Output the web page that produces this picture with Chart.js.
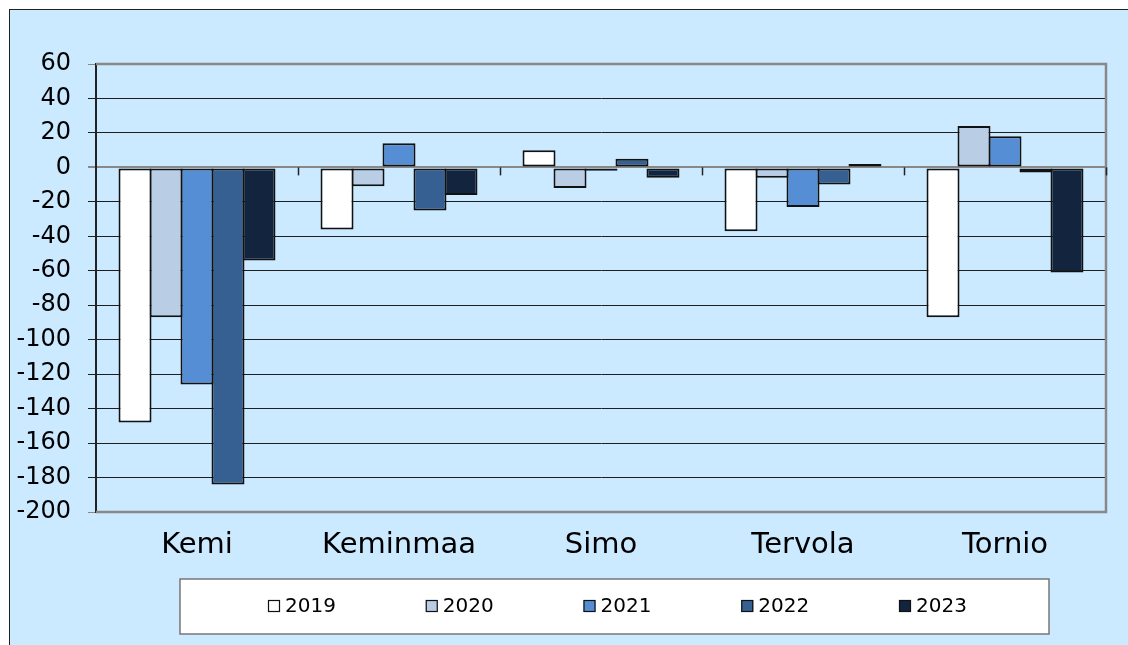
<!DOCTYPE html>
<html>
<head>
<meta charset="utf-8">
<script src="https://cdn.jsdelivr.net/npm/chart.js@4"></script>
<style>
  html, body { margin: 0; padding: 0; background: #fff; }
  #frame {
    position: absolute; left: 9px; top: 9px; right: 0; bottom: 0;
    background: #cceaff; border-left: 1.5px solid #222; border-top: 1.5px solid #222;
  }
  #wrap { position: absolute; left: 0; top: 0; width: 1128px; height: 645px; }
</style>
</head>
<body>
<div id="frame"></div>
<div id="wrap"><canvas id="chart"></canvas></div>
<script>
// Categories and series
const municipalities = ['Kemi', 'Keminmaa', 'Simo', 'Tervola', 'Tornio'];
const years = ['2019', '2020', '2021', '2022', '2023'];
const values2019 = [-148, -36, 10, -37, -87];
const values2020 = [-87, -11, -12, -6, 24];
const values2021 = [-126, 14, -2, -23, 18];
const values2022 = [-184, -25, 5, -10, -3];
const values2023 = [-54, -16, -6, 2, -61];
const seriesColors = ['#ffffff', '#b9cde5', '#558ed5', '#376092', '#12243e'];

const yMin = -200, yMax = 60, yStep = 20;
const fontFamily = '"DejaVu Sans", "Liberation Sans", Arial, sans-serif';

const allValues = [values2019, values2020, values2021, values2022, values2023];

// Gray frame round the plot area (top, right, bottom)
const plotFrame = {
  id: 'plotFrame',
  beforeDatasetsDraw(chart) {
    const {ctx, chartArea: a} = chart;
    ctx.save();
    ctx.strokeStyle = '#888';
    ctx.lineWidth = 2.5;
    ctx.beginPath();
    ctx.moveTo(a.left, a.top);
    ctx.lineTo(a.right, a.top);
    ctx.lineTo(a.right, a.bottom);
    ctx.lineTo(a.left, a.bottom);
    ctx.stroke();
    ctx.restore();
  },
  // small category tick marks hanging under the zero line
  afterDatasetsDraw(chart) {
    const {ctx} = chart;
    const x = chart.scales.x, y = chart.scales.y;
    const y0 = y.getPixelForValue(0);
    ctx.save();
    ctx.strokeStyle = '#222';
    ctx.lineWidth = 1.5;
    for (let i = 1; i <= municipalities.length; i++) {
      const px = Math.round(x.getPixelForValue(i - 0.5)) + 0.5;
      ctx.beginPath();
      ctx.moveTo(px, y0);
      ctx.lineTo(px, y0 + 8);
      ctx.stroke();
    }
    ctx.restore();
  }
};

// Boxed legend under the axis labels
const boxLegend = {
  id: 'boxLegend',
  afterDraw(chart) {
    const {ctx} = chart;
    const box = {left: 180, top: 579, right: 1049, bottom: 634};
    ctx.save();
    ctx.fillStyle = '#fff';
    ctx.fillRect(box.left, box.top, box.right - box.left, box.bottom - box.top);
    ctx.strokeStyle = '#777';
    ctx.lineWidth = 1.5;
    ctx.strokeRect(box.left, box.top, box.right - box.left, box.bottom - box.top);
    const step = 157.75;
    const cy = (box.top + box.bottom) / 2 - 0.5;
    ctx.font = '20px ' + fontFamily;
    ctx.textBaseline = 'middle';
    ctx.textAlign = 'left';
    chart.data.datasets.forEach((ds, i) => {
      const sx = 268 + i * step;
      ctx.fillStyle = ds.backgroundColor;
      ctx.fillRect(sx, cy - 6, 12, 12);
      ctx.strokeStyle = '#111';
      ctx.lineWidth = 1.2;
      ctx.strokeRect(sx + 0.5, cy - 5.5, 11, 11);
      ctx.fillStyle = '#000';
      ctx.fillText(ds.label, sx + 17, cy + 1);
    });
    ctx.restore();
  }
};

const gridColor = ctx => {
  const v = ctx.tick && ctx.tick.value;
  return (v === 0 || v === yMax || v === yMin) ? '#888' : '#1e1e1e';
};

new Chart(document.getElementById('chart'), {
  type: 'bar',
  data: {
    labels: municipalities,
    datasets: years.map((year, i) => ({
      label: year,
      data: allValues[i],
      backgroundColor: seriesColors[i],
      borderColor: '#111',
      borderWidth: 2,
      borderSkipped: false,
      categoryPercentage: 0.767,
      barPercentage: 1.065
    }))
  },
  options: {
    responsive: true,
    maintainAspectRatio: false,
    animation: false,
    layout: { padding: { top: 64, right: 22, bottom: 70, left: 0 } },
    plugins: {
      legend: { display: false },
      tooltip: { enabled: false }
    },
    scales: {
      x: {
        grid: { display: false, drawTicks: false },
        border: { display: false },
        ticks: {
          color: '#000',
          font: { family: fontFamily, size: 29 },
          padding: 16
        },
        afterFit: s => { s.height = 63; }
      },
      y: {
        min: yMin,
        max: yMax,
        ticks: {
          stepSize: yStep,
          color: '#000',
          font: { family: fontFamily, size: 24 },
          padding: 17
        },
        grid: {
          color: gridColor,
          lineWidth: ctx => (ctx.tick && ctx.tick.value === 0) ? 2 : 1,
          tickLength: 8
        },
        border: { display: true, color: '#222', width: 2 },
        afterFit: s => { s.width = 96; }
      }
    }
  },
  plugins: [plotFrame, boxLegend]
});
</script>
</body>
</html>
